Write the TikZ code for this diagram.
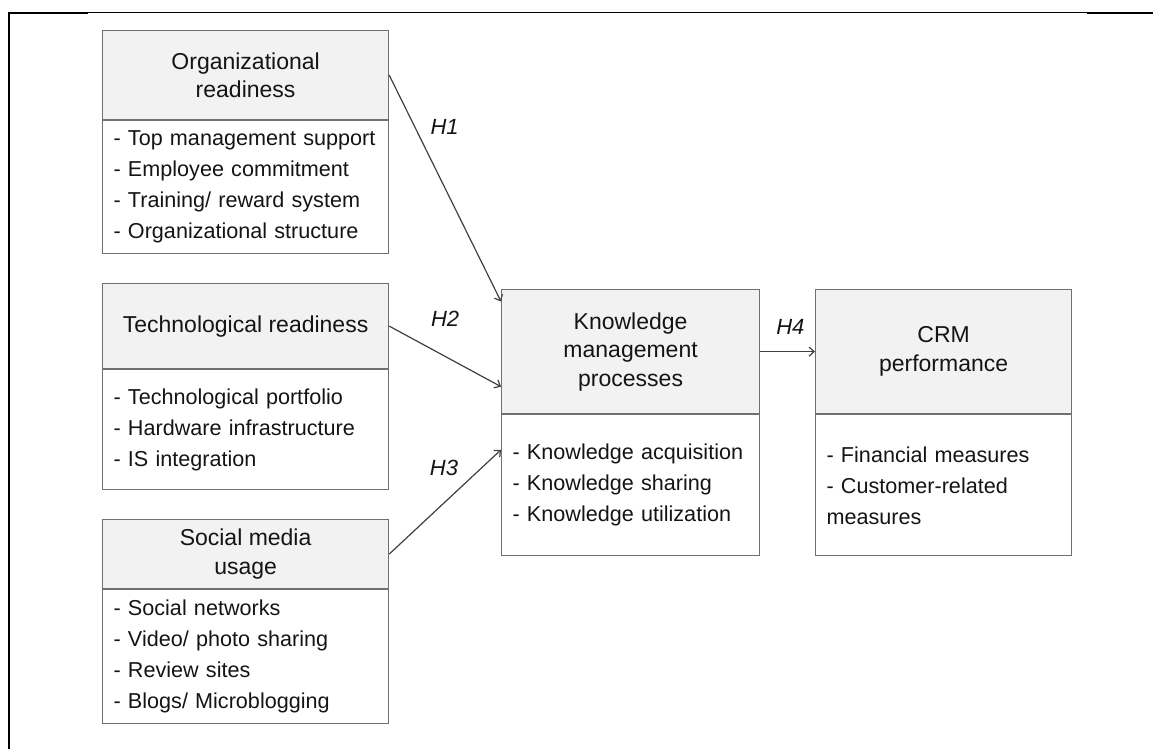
\documentclass[tikz,border=0pt]{standalone}
\usepackage{fontspec}
\setmainfont{Liberation Sans}
\usetikzlibrary{arrows.meta, positioning, calc}
\definecolor{boxline}{HTML}{707070}
\definecolor{headfill}{HTML}{F2F2F2}
\definecolor{inktext}{HTML}{141414}
\definecolor{arrowline}{HTML}{404040}

\tikzset{
  head/.style={draw=boxline, fill=headfill, line width=1.2pt, text=inktext, align=center,
    font=\fontsize{23}{28.5}\selectfont, anchor=north west},
  body/.style={draw=boxline, line width=1.2pt, text=inktext, align=left, inner xsep=11pt,
    font=\fontsize{21.6}{31}\selectfont},
  hyp/.style={font=\fontsize{22}{26}\selectfont\itshape, text=inktext, inner sep=0pt},
  link/.style={->, draw=arrowline, line width=1.2pt}
}

\begin{document}
\begin{tikzpicture}[x=1pt, y=-1pt, >={Straight Barb[length=5pt, width=9pt]}]
  \useasboundingbox (0,0) rectangle (1153,749);
  % frame
  \draw[line width=1pt] (8,13) -- (1153,13);
  \draw[line width=2pt] (8,13) -- (88,13);
  \draw[line width=2pt] (1087,13) -- (1153,13);
  \draw[line width=2pt] (9,12) -- (9,749);

  % left column
  \node (orgHead) [head, minimum width=286pt, minimum height=89pt] at (102,30) {Organizational\\readiness};
  \node (orgBody) [body, text width=264pt, minimum height=133pt, below=0pt of orgHead]
    {- Top management support\\- Employee commitment\\- Training/ reward system\\- Organizational structure};

  \node (techHead) [head, minimum width=286pt, minimum height=85pt] at (102,283) {Technological readiness};
  \node (techBody) [body, text width=264pt, minimum height=120pt, below=0pt of techHead]
    {- Technological portfolio\\- Hardware infrastructure\\- IS integration};

  \node (socHead) [head, minimum width=286pt, minimum height=69pt] at (102,519) {Social media\\usage};
  \node (socBody) [body, text width=264pt, minimum height=134pt, below=0pt of socHead]
    {- Social networks\\- Video/ photo sharing\\- Review sites\\- Blogs/ Microblogging};

  % middle and right
  \node (kmHead) [head, minimum width=258pt, minimum height=124pt] at (501,289) {Knowledge\\management\\processes};
  \node (kmBody) [body, text width=236pt, minimum height=141pt, below=0pt of kmHead]
    {- Knowledge acquisition\\- Knowledge sharing\\- Knowledge utilization};

  \node (crmHead) [head, minimum width=256pt, minimum height=124pt] at (815,289) {CRM\\performance};
  \node (crmBody) [body, text width=234pt, minimum height=141pt, below=0pt of crmHead]
    {- Financial measures\\- Customer-related\\measures};

  % hypotheses
  \draw[link] (orgHead.east) -- node[hyp, pos=0.23, right=15pt] {H1} ($(kmHead.north west)!0.1!(kmHead.south west)$);
  \draw[link] (techHead.east) -- node[hyp, pos=0.5, above=29pt] {H2} ($(kmHead.north west)!0.78!(kmHead.south west)$);
  \draw[link] (socHead.east) -- node[hyp, pos=0.49, above=27pt] {H3} ($(kmBody.north west)!0.25!(kmBody.south west)$);
  \draw[link] (kmHead.east) -- node[hyp, pos=0.55, above=17pt] {H4} (crmHead.west);
\end{tikzpicture}
\end{document}
